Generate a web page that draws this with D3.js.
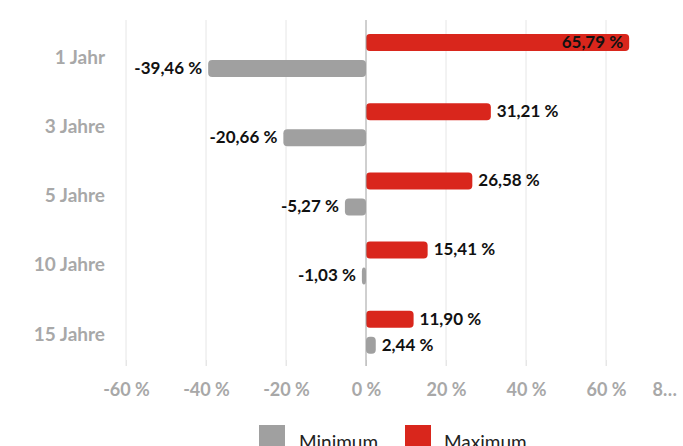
<!DOCTYPE html>
<html>
<head>
<meta charset="utf-8">
<script src="https://cdn.jsdelivr.net/npm/d3@7"></script>
<style>
  html, body { margin: 0; padding: 0; background: #fff; }
  svg { display: block; font-family: Lato, "Noto Sans", sans-serif; }
</style>
</head>
<body>
<svg id="chart" width="683" height="446"></svg>
<script>
// Zeiträume und Spannweite der Renditen (in %)
const categories = ["1 Jahr", "3 Jahre", "5 Jahre", "10 Jahre", "15 Jahre"];
const maximumValues = [65.79, 31.21, 26.58, 15.41, 11.90];
const minimumValues = [-39.46, -20.66, -5.27, -1.03, 2.44];
const tickValues = [-60, -40, -20, 0, 20, 40, 60, 80];
const seriesNames = ["Minimum", "Maximum"];

const colors = { Minimum: "#a0a0a0", Maximum: "#d9261c" };

const svg = d3.select("#chart");
const width = 683, height = 446;
const plotTop = 20, plotBottom = 366;

const x = d3.scaleLinear().domain([-60, 80]).range([126, 686]);
const y = d3.scaleBand().domain(categories).range([plotTop, plotBottom]).padding(0);
const inner = d3.scaleBand().domain(["Maximum", "Minimum"]).range([14, 57]).paddingInner(0.346);

const fmt = v => d3.format(".2f")(v).replace(".", ",").replace("\u2212", "-") + " %";

// Gitternetz
svg.append("g").selectAll("line")
  .data(tickValues.filter(t => t !== 0))
  .join("line")
  .attr("x1", d => x(d)).attr("x2", d => x(d))
  .attr("y1", plotTop).attr("y2", plotBottom)
  .attr("stroke", "#e6e6e6").attr("stroke-width", 1);

// x-Achse mit Beschriftung
const axis = d3.axisBottom(x)
  .tickValues(tickValues)
  .tickSize(6)
  .tickPadding(17)
  .tickFormat((d, i) => i === tickValues.length - 1 ? "8…" : d + " %");

const gAxis = svg.append("g")
  .attr("transform", `translate(0,${plotBottom - 6})`)
  .call(axis);
gAxis.select(".domain").remove();
gAxis.selectAll(".tick line").attr("stroke", "#e6e6e6");
gAxis.selectAll(".tick text")
  .attr("fill", "#a8a8a8")
  .attr("font-size", 18)
  .attr("font-weight", 700)
  .attr("font-family", "Lato, sans-serif");
gAxis.selectAll(".tick").filter(d => d === 80).select("text")
  .attr("text-anchor", "start").attr("x", -34);

// Kategorien
svg.append("g").selectAll("text")
  .data(categories)
  .join("text")
  .attr("x", 105)
  .attr("y", d => y(d) + 39)
  .attr("text-anchor", "end")
  .attr("dominant-baseline", "middle")
  .attr("fill", "#a8a8a8")
  .attr("font-size", 19)
  .attr("font-weight", 700)
  .text(d => d);

const rows = categories.map((c, i) => ({ cat: c, Maximum: maximumValues[i], Minimum: minimumValues[i] }));
const bars = [];
rows.forEach(r => {
  ["Maximum", "Minimum"].forEach(s => bars.push({ cat: r.cat, series: s, value: r[s] }));
});

// Balken
svg.append("g").selectAll("rect")
  .data(bars)
  .join("rect")
  .attr("x", d => Math.min(x(0), x(d.value)))
  .attr("y", d => y(d.cat) + inner(d.series))
  .attr("width", d => Math.abs(x(d.value) - x(0)))
  .attr("height", inner.bandwidth())
  .attr("rx", 4).attr("ry", 4)
  .attr("fill", d => colors[d.series]);

// Nulllinie
svg.append("line")
  .attr("x1", x(0)).attr("x2", x(0))
  .attr("y1", plotTop).attr("y2", plotBottom)
  .attr("stroke", "#a0a0a0").attr("stroke-width", 1);

// Wertebeschriftungen
svg.append("g").selectAll("text")
  .data(bars)
  .join("text")
  .each(function (d) {
    const end = x(d.value);
    const t = d3.select(this);
    let anchor, px;
    if (d.value >= 0) {
      const inside = end + 75 > width - 30;
      anchor = inside ? "end" : "start";
      px = inside ? end - 6 : end + 6;
    } else {
      anchor = "end";
      px = end - 6;
    }
    t.attr("x", px).attr("text-anchor", anchor);
  })
  .attr("y", d => y(d.cat) + inner(d.series) + inner.bandwidth() / 2 + 1)
  .attr("dominant-baseline", "middle")
  .attr("fill", "#111")
  .attr("font-size", 17)
  .attr("font-weight", 700)
  .text(d => fmt(d.value));

// Legende
const legend = svg.append("g");
const legendItems = [
  { name: seriesNames[0], sx: 259, tx: 299 },
  { name: seriesNames[1], sx: 405, tx: 444 }
];
legend.selectAll("rect")
  .data(legendItems)
  .join("rect")
  .attr("x", d => d.sx).attr("y", 425)
  .attr("width", 26).attr("height", 26)
  .attr("fill", d => colors[d.name]);
legend.selectAll("text")
  .data(legendItems)
  .join("text")
  .attr("x", d => d.tx).attr("y", 449)
  .attr("fill", "#222")
  .attr("font-size", 19)
  .text(d => d.name);
</script>
</body>
</html>
